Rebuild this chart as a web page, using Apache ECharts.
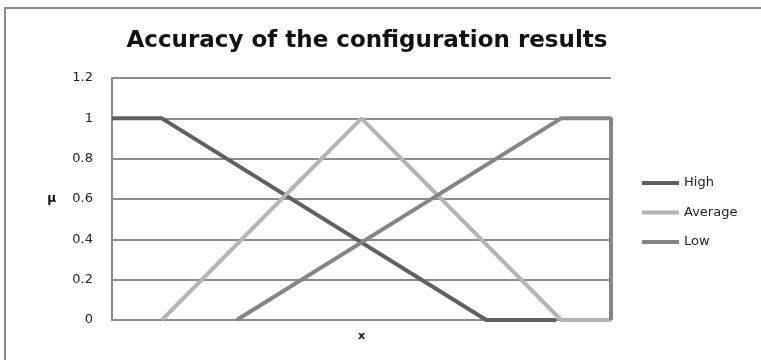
<!DOCTYPE html>
<html><head><meta charset="utf-8">
<script src="https://cdn.jsdelivr.net/npm/echarts@6/dist/echarts.min.js"></script>
<style>html,body{margin:0;padding:0;background:#fff}#c{width:761px;height:360px}</style>
</head><body><div id="c"></div>
<script>
const seriesNames = ['High', 'Average', 'Low'];
const highX = [0, 1, 7.5, 8.9];
const highY = [1, 1, 0, 0];
const avgX = [1, 5, 9, 10];
const avgY = [0, 1, 0, 0];
const lowX = [2.5, 9, 10, 10];
const lowY = [0, 1, 1, 0];
const yTicks = [0, 0.2, 0.4, 0.6, 0.8, 1, 1.2];

const pairs = (xs, ys) => xs.map((x, i) => [x, ys[i]]);
const colors = ['#606060', '#b4b4b4', '#858585'];
const FONT = 'DejaVu Sans';
const chart = echarts.init(document.getElementById('c'), null, {renderer: 'canvas'});
chart.setOption({
  animation: false,
  title: {
    text: 'Accuracy of the configuration results',
    left: 362, textAlign: 'center', top: 25,
    textStyle: {fontFamily: FONT, fontWeight: 'bold', fontSize: 23, color: '#111'}
  },
  graphic: [{
    type: 'rect', shape: {x: 5, y: 8, width: 820, height: 420},
    style: {fill: 'none', stroke: '#8a8a8a', lineWidth: 2}, silent: true
  }],
  grid: {left: 112, right: 150, top: 78, bottom: 40},
  legend: {
    orient: 'vertical', left: 637, top: 171,
    itemWidth: 37, itemHeight: 4, itemGap: 15.5, icon: 'rect',
    textStyle: {fontFamily: FONT, fontSize: 13, color: '#222', lineHeight: 14},
    data: seriesNames
  },
  xAxis: {
    type: 'value', min: 0, max: 10,
    name: 'x', nameLocation: 'middle', nameGap: 11,
    nameTextStyle: {fontFamily: FONT, fontWeight: 'bold', fontSize: 11, color: '#111'},
    axisLabel: {show: false}, axisTick: {show: false}, splitLine: {show: false},
    axisLine: {lineStyle: {color: '#8c8c8c', width: 2}}
  },
  yAxis: {
    type: 'value', min: 0, max: 1.2, interval: 0.2,
    name: 'μ', nameLocation: 'middle', nameGap: 56, nameRotate: 0,
    nameTextStyle: {fontFamily: FONT, fontWeight: 'bold', fontSize: 12, color: '#111'},
    axisLabel: {
      fontFamily: FONT, fontSize: 13, color: '#222', margin: 19,
      formatter: v => { const t = yTicks.find(k => Math.abs(k - v) < 1e-6); return String(t !== undefined ? t : v); }
    },
    axisTick: {show: false},
    axisLine: {show: true, lineStyle: {color: '#8c8c8c', width: 2}},
    splitLine: {lineStyle: {color: '#8c8c8c', width: 2}}
  },
  series: [
    {name: 'High', type: 'line', data: pairs(highX, highY), showSymbol: false, symbol: 'none',
     lineStyle: {color: colors[0], width: 4}, itemStyle: {color: colors[0]}},
    {name: 'Average', type: 'line', data: pairs(avgX, avgY), showSymbol: false, symbol: 'none',
     lineStyle: {color: colors[1], width: 4}, itemStyle: {color: colors[1]}},
    {name: 'Low', type: 'line', data: pairs(lowX, lowY), showSymbol: false, symbol: 'none',
     lineStyle: {color: colors[2], width: 4}, itemStyle: {color: colors[2]}}
  ]
});
</script></body></html>
